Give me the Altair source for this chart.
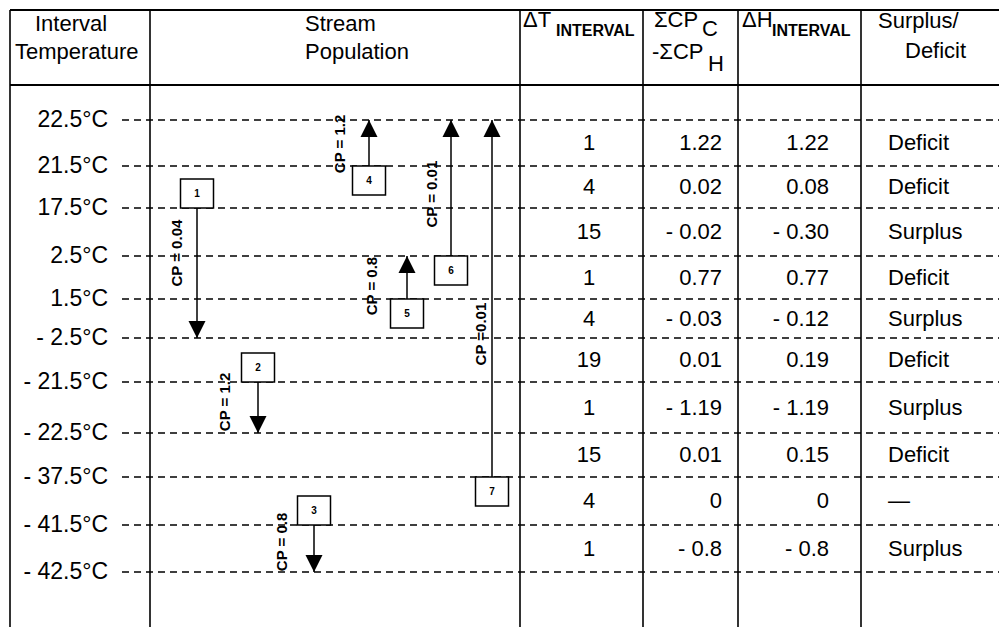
import altair as alt
import pandas as pd

# ---------------- data ----------------
LEVEL_TEMPS = [22.5, 21.5, 17.5, 2.5, 1.5, -2.5, -21.5, -22.5, -37.5, -41.5, -42.5]
LEVEL_LABELS = ["22.5°C", "21.5°C", "17.5°C", "2.5°C", "1.5°C", "- 2.5°C",
                "- 21.5°C", "- 22.5°C", "- 37.5°C", "- 41.5°C", "- 42.5°C"]
DT_INTERVAL = ["1", "4", "15", "1", "4", "19", "1", "15", "4", "1"]
SUM_CP = ["1.22", "0.02", "- 0.02", "0.77", "-  0.03", "0.01", "- 1.19", "0.01", "0", "- 0.8"]
DH_INTERVAL = ["1.22", "0.08", "- 0.30", "0.77", "- 0.12", "0.19", "- 1.19", "0.15", "0", "- 0.8"]
BALANCE = ["Deficit", "Deficit", "Surplus", "Deficit", "Surplus", "Deficit",
           "Surplus", "Deficit", "—", "Surplus"]

STREAM_NO = [1, 2, 3, 4, 5, 6, 7]
STREAM_FROM = [17.5, -21.5, -41.5, 21.5, 1.5, 2.5, -37.5]
STREAM_TO = [-2.5, -22.5, -42.5, 22.5, 2.5, 22.5, 22.5]
STREAM_CP = ["CP = 0.04", "CP = 1.2", "CP = 0.8", "CP = 1.2", "CP = 0.8", "CP = 0.01", "CP =0.01"]

HEADER_MAIN = ["Interval", "Temperature", "Stream", "Population", "ΔT", "ΣCP", "C",
               "-ΣCP", "H", "ΔH", "Surplus/", "Deficit"]
HEADER_SUB = ["INTERVAL", "INTERVAL"]

# ---------------- layout (page pixels) ----------------
FONT = "Liberation Sans"
PAGE = 8
W, H = 991, 619
FS = 22
LEVEL_Y_PX = [120, 166, 208, 256, 299, 338, 382, 433, 477, 525, 572]
COL_LINES_PX = [10, 150, 520, 643, 738, 861]
STREAM_X_PX = [197, 258, 314, 369, 407, 451, 492]
CP_X_PX = [177, 225, 282, 340, 372, 432, 481]
CP_AT_LEVEL = [2.94, 6.39, 9.36, 0.52, 3.70, 1.67, 4.90]
DT_X, SUMCP_X, DH_X, BAL_X = 589, 722, 829, 888
HEADER_MAIN_X = [35, 15, 305, 305, 523, 654, 702, 652, 708, 742, 878, 905]
HEADER_MAIN_Y = [31, 59, 31, 59, 27, 27, 36, 59, 71, 27, 28, 58]
HEADER_SUB_X = [556, 772]
HEADER_SUB_Y = [36, 36]

# ---------------- scales ----------------
y_dom = [-3] + list(range(len(LEVEL_Y_PX))) + [len(LEVEL_Y_PX) + 1]
y_rng = ([LEVEL_Y_PX[0] - 3 * 46 - PAGE] + [v - PAGE for v in LEVEL_Y_PX]
         + [LEVEL_Y_PX[-1] + 2 * 47 - PAGE])
YS = alt.Scale(domain=y_dom, range=y_rng, nice=False, zero=False)
XS = alt.Scale(domain=[PAGE, PAGE + W], range=[0, W], nice=False, zero=False)

# ---------------- tables ----------------
levels = pd.DataFrame({"lvl": list(range(len(LEVEL_TEMPS))), "label": LEVEL_LABELS})
rows = pd.DataFrame({
    "lvl": [i + 0.5 for i in range(len(DT_INTERVAL))],
    "dt": DT_INTERVAL, "cp": SUM_CP, "dh": DH_INTERVAL, "bal": BALANCE,
})
lvl_of = {t: i for i, t in enumerate(LEVEL_TEMPS)}
streams = pd.DataFrame({
    "no": [str(n) for n in STREAM_NO],
    "y0": [lvl_of[t] for t in STREAM_FROM],
    "y1": [lvl_of[t] for t in STREAM_TO],
    "x": STREAM_X_PX,
    "cpx": CP_X_PX,
    "cpy": CP_AT_LEVEL,
    "cp": STREAM_CP,
})
streams["hot"] = streams["y1"] > streams["y0"]
streams["arrow"] = ["M0,0L-0.5,-1L0.5,-1Z" if h else "M0,0L0.5,1L-0.5,1Z" for h in streams["hot"]]
streams["box"] = ["M-1,-1.76L1,-1.76L1,0L-1,0Z" if h else "M-1,0L1,0L1,1.76L-1,1.76Z"
                  for h in streams["hot"]]
head_main = pd.DataFrame({"t": HEADER_MAIN, "px": [v - PAGE for v in HEADER_MAIN_X],
                          "py": [v - PAGE for v in HEADER_MAIN_Y]})
head_sub = pd.DataFrame({"t": HEADER_SUB, "px": [v - PAGE for v in HEADER_SUB_X],
                         "py": [v - PAGE for v in HEADER_SUB_Y]})

X = lambda f: alt.X(f, scale=XS, axis=None)
Y = lambda f: alt.Y(f, scale=YS, axis=None)

col_rules = alt.Chart(pd.DataFrame({"x": COL_LINES_PX})).mark_rule(
    color="black", strokeWidth=1.6).encode(x=X("x:Q"), y=alt.value(2), y2=alt.value(H))
hlines = alt.Chart(pd.DataFrame({"py": [2, 77]})).mark_rule(
    color="black", strokeWidth=2).encode(y=alt.Y("py:Q", scale=None, axis=None),
                                         x=alt.value(2), x2=alt.value(W))
dashed = alt.Chart(levels).mark_rule(color="black", strokeWidth=1.6, strokeDash=[7, 5]).encode(
    y=Y("lvl:Q"), x=alt.value(114), x2=alt.value(W))
temp_labels = alt.Chart(levels).mark_text(
    align="right", baseline="middle", font=FONT, fontSize=FS + 1, color="black").encode(
    y=Y("lvl:Q"), x=alt.value(100), text="label:N")

s_lines = alt.Chart(streams).mark_rule(color="black", strokeWidth=1.5).encode(
    x=X("x:Q"), y=Y("y0:Q"), y2="y1:Q")
arrows = alt.Chart(streams).mark_point(filled=True, color="black", size=1156, opacity=1).encode(
    x=X("x:Q"), y=Y("y1:Q"), shape=alt.Shape("arrow:N", scale=None))
boxes = alt.Chart(streams).mark_point(
    filled=True, fill="white", stroke="black", strokeWidth=1.5, size=1089, opacity=1).encode(
    x=X("x:Q"), y=Y("y0:Q"), shape=alt.Shape("box:N", scale=None))
num_hot = alt.Chart(streams).transform_filter("datum.hot").mark_text(
    font=FONT, fontSize=10, fontWeight="bold", baseline="middle", dy=-14, color="black").encode(
    x=X("x:Q"), y=Y("y0:Q"), text="no:N")
num_cold = alt.Chart(streams).transform_filter("!datum.hot").mark_text(
    font=FONT, fontSize=10, fontWeight="bold", baseline="middle", dy=15, color="black").encode(
    x=X("x:Q"), y=Y("y0:Q"), text="no:N")
cp_labels = alt.Chart(streams).mark_text(
    angle=270, font=FONT, fontSize=15, fontWeight="bold", align="center", baseline="middle",
    color="black").encode(x=X("cpx:Q"), y=Y("cpy:Q"), text="cp:N")

def col_text(field, xpx, align):
    return alt.Chart(rows).mark_text(align=align, baseline="middle", font=FONT, fontSize=FS,
                                     color="black").encode(
        y=Y("lvl:Q"), x=alt.value(xpx - PAGE), text=f"{field}:N")

t_dt = col_text("dt", DT_X, "center")
t_cp = col_text("cp", SUMCP_X, "right")
t_dh = col_text("dh", DH_X, "right")
t_bal = col_text("bal", BAL_X, "left")

h_main = alt.Chart(head_main).mark_text(
    align="left", baseline="alphabetic", font=FONT, fontSize=FS, color="black").encode(
    x=alt.X("px:Q", scale=None, axis=None), y=alt.Y("py:Q", scale=None, axis=None), text="t:N")
h_sub = alt.Chart(head_sub).mark_text(
    align="left", baseline="alphabetic", font=FONT, fontSize=16, fontWeight="bold",
    color="black").encode(
    x=alt.X("px:Q", scale=None, axis=None), y=alt.Y("py:Q", scale=None, axis=None), text="t:N")

chart = alt.layer(
    dashed, col_rules, hlines, temp_labels, s_lines, arrows, boxes, num_hot, num_cold,
    cp_labels, t_dt, t_cp, t_dh, t_bal, h_main, h_sub,
).resolve_scale(x="independent", y="independent").properties(
    width=W, height=H, padding=0, autosize=alt.AutoSizeParams(type="none"),
    background="white",
).configure_view(stroke=None)

chart.save("out.html", embed_options={"renderer": "svg", "actions": False})
